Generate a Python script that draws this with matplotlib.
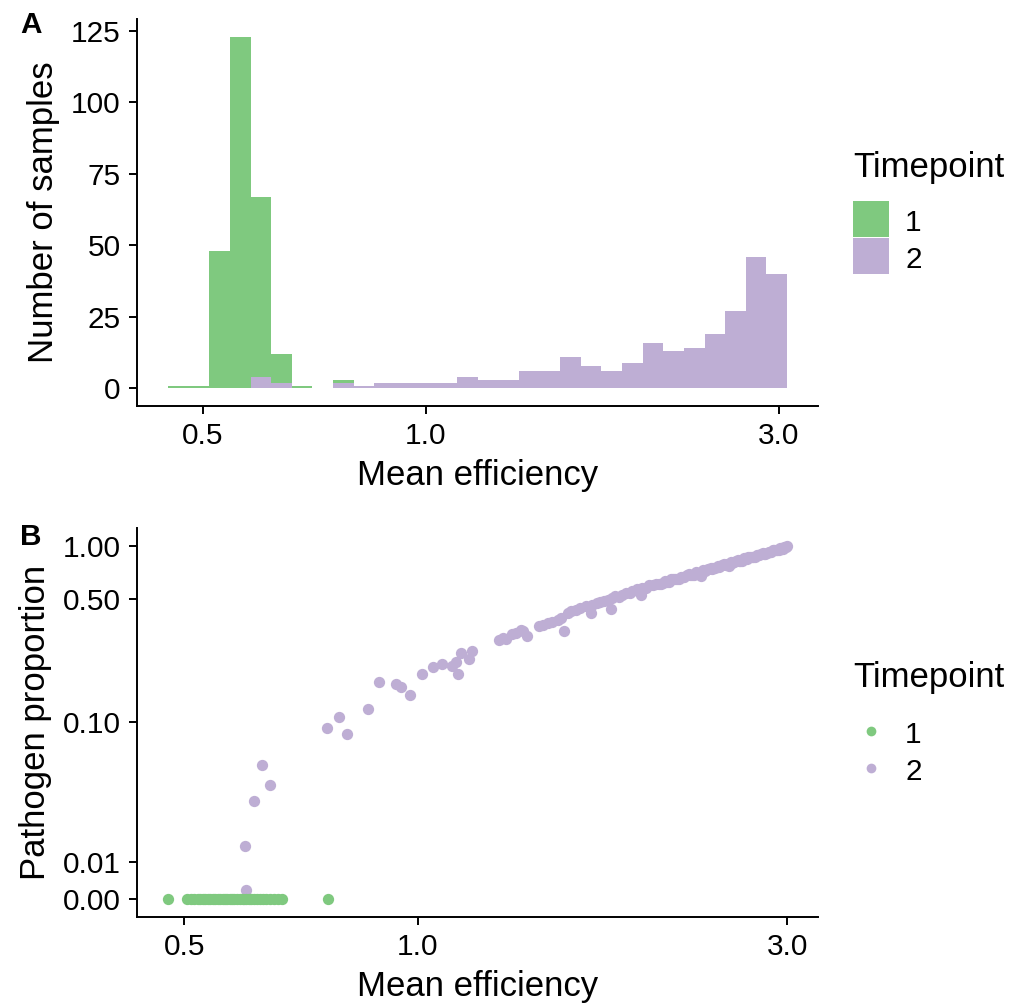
import numpy as np
import matplotlib
matplotlib.use("Agg")
import matplotlib.pyplot as plt
from matplotlib.lines import Line2D

plt.rcParams['font.family'] = ['Liberation Sans', 'DejaVu Sans']

GREEN = '#7FC97F'
PURPLE = '#BEAED4'

# histogram (panel A): 30 log-spaced bins
bin_min, bin_max, n_bins = 0.449, 3.076, 30
counts_t1 = [1, 1, 48, 123, 67, 12, 1, 0, 3, 0,
             0, 0, 0, 0, 0, 0, 0, 0, 0, 0,
             0, 0, 0, 0, 0, 0, 0, 0, 0, 0]
counts_t2 = [0, 0, 0, 0, 4, 2, 0, 0, 2, 1,
             2, 2, 2, 2, 4, 3, 3, 6, 6, 11,
             8, 6, 9, 16, 13, 14, 19, 27, 46, 40]

# scatter (panel B)
eff_t1 = [0.476, 0.504, 0.51, 0.515, 0.52, 0.524, 0.528, 0.532, 0.536, 0.54,
          0.544, 0.548, 0.552, 0.556, 0.56, 0.564, 0.568, 0.572, 0.576, 0.58,
          0.585, 0.59, 0.595, 0.6, 0.605, 0.61, 0.615, 0.62, 0.626, 0.632,
          0.638, 0.645, 0.652, 0.66, 0.669, 0.766]
prop_t1 = [0.0] * len(eff_t1)

eff_t2 = [0.596, 0.601, 0.599, 0.615, 0.644, 0.629, 0.763, 0.791, 0.811, 0.862,
          0.892, 0.937, 0.952, 0.979, 1.013, 1.047, 1.075, 1.109, 1.12, 1.129,
          1.137, 1.166, 1.175, 1.272, 1.30, 1.326, 1.359, 1.386, 1.436, 1.472,
          1.516, 1.546, 1.562, 1.601, 1.649, 1.674, 1.707, 1.74, 1.777, 1.785,
          1.839, 1.894, 1.943, 1.951, 2.011,
          2.05, 2.1, 2.15, 2.2, 2.25, 2.3, 2.35, 2.4, 2.45, 2.5,
          2.55, 2.6, 2.65, 2.7, 2.75, 2.8, 2.85, 2.9, 2.95, 3.0,
          2.075, 2.125, 2.175, 2.225, 2.275, 2.325, 2.375, 2.425, 2.475, 2.527,
          2.575, 2.625, 2.675, 2.725, 2.775, 2.825, 2.875, 2.925, 2.975,
          1.29, 1.34, 1.37, 1.45, 1.49, 1.53, 1.58, 1.62, 1.68, 1.72, 1.76,
          1.80, 1.82, 1.86, 1.88, 1.92, 1.97, 1.99, 2.03, 2.06, 2.09,
          2.11, 2.14, 2.16, 2.19, 2.21, 2.24, 2.26, 2.29, 2.31, 2.34,
          2.36, 2.39, 2.41, 2.44, 2.46, 2.49, 2.51, 2.54, 2.56, 2.59,
          2.61, 2.64, 2.66, 2.69, 2.71, 2.74, 2.76, 2.79, 2.81, 2.84,
          2.86, 2.89, 2.91, 2.94, 2.96, 2.99]
prop_t2 = [0.0, 0.0024, 0.015, 0.033, 0.042, 0.056, 0.092, 0.106, 0.085, 0.119,
           0.169, 0.164, 0.159, 0.142, 0.187, 0.205, 0.214, 0.209, 0.218, 0.188,
           0.247, 0.228, 0.255, 0.294, 0.296, 0.318, 0.335, 0.309, 0.349, 0.365,
           0.381, 0.327, 0.416, 0.435, 0.454, 0.416, 0.474, 0.488, 0.439, 0.506,
           0.528, 0.551, 0.528, 0.576, 0.602,
           0.608, 0.627, 0.646, 0.665, 0.684, 0.703, 0.722, 0.742, 0.761, 0.782,
           0.801, 0.821, 0.841, 0.861, 0.881, 0.902, 0.922, 0.943, 0.963, 1.0,
           0.612, 0.645, 0.648, 0.682, 0.686, 0.671, 0.740, 0.745, 0.780, 0.764,
           0.818, 0.823, 0.860, 0.862, 0.900, 0.905, 0.940, 0.945, 0.980,
           0.300, 0.322, 0.330, 0.357, 0.372, 0.390, 0.425, 0.442, 0.462, 0.479, 0.494,
           0.518, 0.514, 0.543, 0.539, 0.568, 0.577, 0.597, 0.606, 0.606, 0.630,
           0.626, 0.650, 0.646, 0.669, 0.665, 0.689, 0.685, 0.709, 0.705, 0.729,
           0.725, 0.749, 0.745, 0.768, 0.764, 0.788, 0.784, 0.808, 0.804, 0.828,
           0.824, 0.848, 0.844, 0.867, 0.863, 0.887, 0.883, 0.907, 0.903, 0.927,
           0.923, 0.947, 0.943, 0.966, 0.962, 0.986]

prop_ticks = [0.0, 0.01, 0.1, 0.5, 1.0]
prop_labels = ['0.00', '0.01', '0.10', '0.50', '1.00']
eff_ticks = [0.5, 1.0, 3.0]
eff_labels = ['0.5', '1.0', '3.0']

TICK_FS = 21.4
TITLE_FS = 25

W, H = 1013, 1005
fig = plt.figure(figsize=(W / 100, H / 100), dpi=100)
axA = fig.add_axes([137 / W, 1 - 406 / H, 681 / W, 387 / H])
axB = fig.add_axes([137 / W, 1 - 917 / H, 681 / W, 389 / H])


def style(ax):
    for s in ['top', 'right']:
        ax.spines[s].set_visible(False)
    for s in ['left', 'bottom']:
        ax.spines[s].set_linewidth(1.4)
    ax.tick_params(width=1.4, length=5.8, labelsize=TICK_FS, pad=6)


def log_lim(lo, hi):
    a, b = np.log10(lo), np.log10(hi)
    d = (b - a) * 0.05
    return 10 ** (a - d), 10 ** (b + d)


leg_kw = dict(loc='upper left', bbox_transform=fig.transFigure, frameon=False,
              fontsize=TICK_FS, handlelength=1.2, handleheight=1.22,
              labelspacing=0.18, handletextpad=0.55, borderpad=0, borderaxespad=0)

# panel A
edges = np.logspace(np.log10(bin_min), np.log10(bin_max), n_bins + 1)
axA.bar(edges[:-1], counts_t1, width=np.diff(edges), align='edge', color=GREEN, linewidth=0)
axA.bar(edges[:-1], counts_t2, width=np.diff(edges), align='edge', color=PURPLE, linewidth=0)
axA.set_xscale('log')
axA.set_xlim(*log_lim(bin_min, bin_max))
top = max(max(counts_t1), max(counts_t2))
axA.set_ylim(-0.05 * top, 1.05 * top)
axA.set_yticks([0, 25, 50, 75, 100, 125])
axA.set_xticks(eff_ticks)
axA.set_xticklabels(eff_labels)
axA.xaxis.set_minor_locator(matplotlib.ticker.NullLocator())
axA.set_xlabel('Mean efficiency', fontsize=TITLE_FS, labelpad=6)
axA.set_ylabel('Number of samples', fontsize=TITLE_FS, labelpad=8)
style(axA)
axA.legend(handles=[Line2D([], [], marker='s', ls='', color=GREEN, markersize=25.5, mew=0, label='1'),
                    Line2D([], [], marker='s', ls='', color=PURPLE, markersize=25.5, mew=0, label='2')],
           bbox_to_anchor=(853 / W, 1 - 206 / H), **leg_kw)
fig.text(853 / W, 1 - 168 / H, 'Timepoint', fontsize=TITLE_FS, va='center', ha='left')

# panel B
sig = 0.01


def fwd(v):
    return np.arcsinh(np.asarray(v) / (2 * sig))


def inv(v):
    return 2 * sig * np.sinh(np.asarray(v))


axB.scatter(eff_t2, prop_t2, s=66, color=PURPLE, linewidths=0, zorder=2)
axB.scatter(eff_t1, prop_t1, s=66, color=GREEN, linewidths=0, zorder=3)
axB.set_xscale('log')
axB.set_yscale('function', functions=(fwd, inv))
axB.set_xlim(*log_lim(min(eff_t1 + eff_t2), max(eff_t1 + eff_t2)))
ymax = float(fwd(max(prop_t2)))
axB.set_ylim(float(inv(-0.05 * ymax)), float(inv(1.05 * ymax)))
axB.set_yticks(prop_ticks)
axB.set_yticklabels(prop_labels)
axB.yaxis.set_minor_locator(matplotlib.ticker.NullLocator())
axB.set_xticks(eff_ticks)
axB.set_xticklabels(eff_labels)
axB.xaxis.set_minor_locator(matplotlib.ticker.NullLocator())
axB.set_xlabel('Mean efficiency', fontsize=TITLE_FS, labelpad=6)
axB.set_ylabel('Pathogen proportion', fontsize=TITLE_FS, labelpad=8)
style(axB)
axB.legend(handles=[Line2D([], [], marker='o', ls='', color=GREEN, markersize=7, mew=0, label='1'),
                    Line2D([], [], marker='o', ls='', color=PURPLE, markersize=7, mew=0, label='2')],
           bbox_to_anchor=(853 / W, 1 - 718 / H), **leg_kw)
fig.text(853 / W, 1 - 678 / H, 'Timepoint', fontsize=TITLE_FS, va='center', ha='left')

fig.text(20 / W, 1 - 25 / H, 'A', fontsize=TICK_FS, fontweight='bold', va='center')
fig.text(20 / W, 1 - 537 / H, 'B', fontsize=TICK_FS, fontweight='bold', va='center')

fig.savefig('out.png', dpi=100)
